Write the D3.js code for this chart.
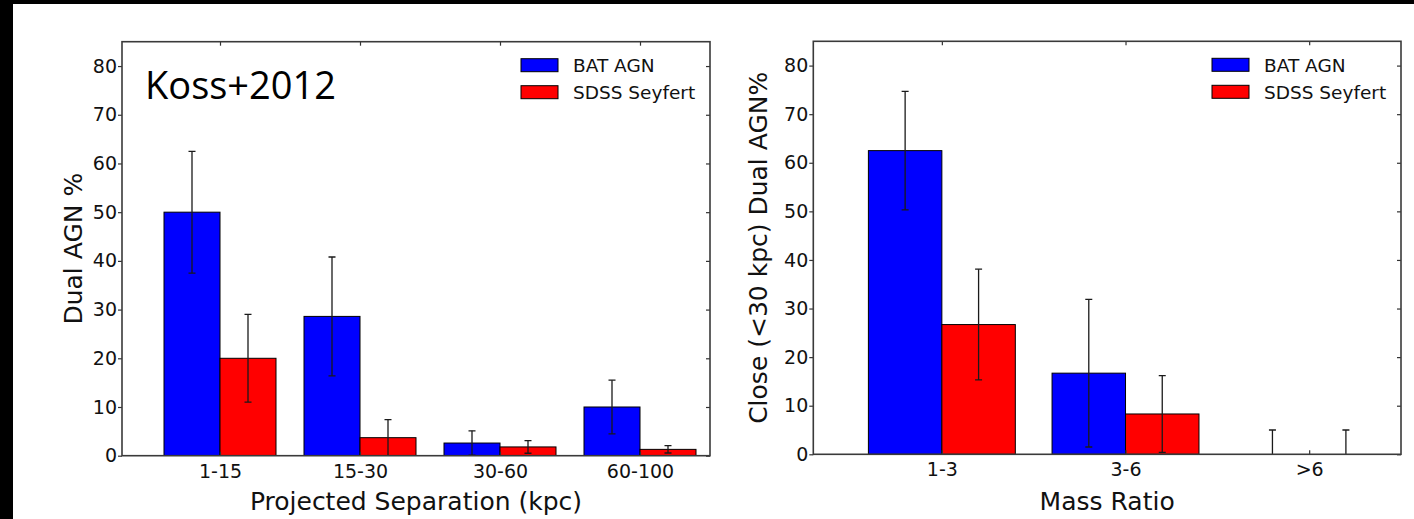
<!DOCTYPE html>
<html>
<head>
<meta charset="utf-8">
<script src="https://cdn.jsdelivr.net/npm/d3@7"></script>
<style>
  html, body { margin: 0; padding: 0; background: #fff; }
  svg { display: block; }
  .tick text { font-family: "DejaVu Sans", sans-serif; fill: #111; }
</style>
</head>
<body>
<svg id="fig" width="1414" height="519"></svg>
<script>
// Dual AGN fraction by projected separation
const sepCategories = ["1-15", "15-30", "30-60", "60-100"];
const sepBat = [50, 28.6, 2.6, 10];
const sepBatErr = [12.5, 12.2, 2.5, 5.5];
const sepSdss = [20, 3.7, 1.8, 1.3];
const sepSdssErr = [9, 3.7, 1.3, 0.75];

// Close (<30 kpc) dual AGN fraction by mass ratio
const massCategories = ["1-3", "3-6", ">6"];
const massBat = [62.5, 16.7, 0];
const massBatErr = [12.2, 15.2, 5];
const massSdss = [26.7, 8.3, 0];
const massSdssErr = [11.4, 7.9, 5];

const yTicks = [0, 10, 20, 30, 40, 50, 60, 70, 80];
const seriesNames = ["BAT AGN", "SDSS Seyfert"];
const seriesColors = ["#0000ff", "#ff0000"];

const svg = d3.select("#fig");
svg.append("rect").attr("width", 1414).attr("height", 519).attr("fill", "#fff");
// dark frame strips along the top and left edges
svg.append("rect").attr("x", 0).attr("y", 0).attr("width", 1414).attr("height", 4).attr("fill", "#000");
svg.append("rect").attr("x", 0).attr("y", 0).attr("width", 13).attr("height", 519).attr("fill", "#000");

const BAR_W = 0.4;

function drawPanel(opt) {
  const { id, left, right, top, bottom, cats, bat, batErr, sdss, sdssErr, xLabel, yLabel, yLabelX } = opt;
  const n = cats.length;
  const x = d3.scaleLinear().domain([-0.7, n - 0.5]).range([left, right]);
  const y = d3.scaleLinear().domain([0, 85]).range([bottom, top]);
  const g = svg.append("g");

  const clipId = "clip-" + id;
  svg.append("clipPath").attr("id", clipId)
    .append("rect").attr("x", left).attr("y", top).attr("width", right - left).attr("height", bottom - top);

  const plot = g.append("g").attr("clip-path", `url(#${clipId})`);
  const series = [
    { vals: bat, errs: batErr, off: -BAR_W, color: seriesColors[0] },
    { vals: sdss, errs: sdssErr, off: 0, color: seriesColors[1] }
  ];

  series.forEach(s => {
    plot.selectAll(null).data(s.vals).join("rect")
      .attr("x", (d, i) => x(i + s.off))
      .attr("width", (d, i) => x(i + s.off + BAR_W) - x(i + s.off))
      .attr("y", d => y(d))
      .attr("height", d => y(0) - y(d))
      .attr("fill", s.color)
      .attr("stroke", "#000")
      .attr("stroke-width", 1);
  });

  series.forEach(s => {
    const eb = plot.selectAll(null).data(s.vals.map((v, i) => ({ v, e: s.errs[i], i }))).join("g")
      .attr("stroke", "#1a1a1a").attr("stroke-width", 1.3);
    const cx = d => x(d.i + s.off + BAR_W / 2);
    eb.append("line")
      .attr("x1", cx).attr("x2", cx)
      .attr("y1", d => y(d.v + d.e)).attr("y2", d => y(d.v - d.e));
    eb.append("line")
      .attr("x1", d => cx(d) - 3.5).attr("x2", d => cx(d) + 3.5)
      .attr("y1", d => y(d.v + d.e)).attr("y2", d => y(d.v + d.e));
    eb.append("line")
      .attr("x1", d => cx(d) - 3.5).attr("x2", d => cx(d) + 3.5)
      .attr("y1", d => y(d.v - d.e)).attr("y2", d => y(d.v - d.e));
  });

  // axes
  const idx = d3.range(n);
  const axL = g.append("g").attr("transform", `translate(${left},0)`)
    .call(d3.axisLeft(y).tickValues(yTicks).tickSize(4).tickPadding(1));
  const axR = g.append("g").attr("transform", `translate(${right},0)`)
    .call(d3.axisRight(y).tickValues(yTicks).tickSize(-4).tickFormat(""));
  const axT = g.append("g").attr("transform", `translate(0,${top})`)
    .call(d3.axisTop(x).tickValues(idx).tickSize(-4).tickFormat(""));
  const axB = g.append("g").attr("transform", `translate(0,${bottom})`)
    .call(d3.axisBottom(x).tickValues(idx).tickSize(-4).tickPadding(8.5).tickFormat(i => cats[i]));
  [axL, axR, axT, axB].forEach(a => {
    a.select(".domain").remove();
    a.selectAll(".tick line").attr("stroke", "#333").attr("stroke-width", 1.2);
    a.selectAll(".tick text").attr("font-size", 19);
  });

  // frame
  g.append("rect").attr("x", left).attr("y", top).attr("width", right - left).attr("height", bottom - top)
    .attr("fill", "none").attr("stroke", "#3a3a3a").attr("stroke-width", 1.6);

  // axis titles
  g.append("text").attr("x", (left + right) / 2).attr("y", 510)
    .attr("text-anchor", "middle").attr("font-family", "DejaVu Sans, sans-serif")
    .attr("font-size", 25).attr("fill", "#111").text(xLabel);
  g.append("text").attr("transform", `translate(${yLabelX},${(top + bottom) / 2}) rotate(-90)`)
    .attr("text-anchor", "middle").attr("font-family", "DejaVu Sans, sans-serif")
    .attr("font-size", 25).attr("fill", "#111").text(yLabel);

  // legend
  const lg = g.append("g").attr("transform", `translate(${right - 189},0)`);
  seriesNames.forEach((name, k) => {
    const py = top + 17 + k * 27;
    lg.append("rect").attr("x", 0).attr("y", py).attr("width", 37).attr("height", 13)
      .attr("fill", seriesColors[k]).attr("stroke", "#000").attr("stroke-width", 1);
    lg.append("text").attr("x", 52).attr("y", py + 13.5)
      .attr("font-family", "DejaVu Sans, sans-serif").attr("font-size", 18.5).attr("fill", "#111").text(name);
  });
  return g;
}

const leftPanel = drawPanel({
  id: "sep", left: 122, right: 710, top: 41.7, bottom: 455.7,
  cats: sepCategories, bat: sepBat, batErr: sepBatErr, sdss: sepSdss, sdssErr: sepSdssErr,
  xLabel: "Projected Separation (kpc)", yLabel: "Dual AGN %", yLabelX: 82
});

drawPanel({
  id: "mass", left: 813.3, right: 1401, top: 41.3, bottom: 454.3,
  cats: massCategories, bat: massBat, batErr: massBatErr, sdss: massSdss, sdssErr: massSdssErr,
  xLabel: "Mass Ratio", yLabel: "Close (<30 kpc) Dual AGN%", yLabelX: 767
});

// citation tag inside the left panel
leftPanel.append("text").attr("x", 145).attr("y", 99)
  .attr("font-family", "'Open Sans', sans-serif")
  .attr("font-weight", 400)
  .attr("font-size", 38).attr("fill", "#000").text("Koss+2012");
</script>
</body>
</html>
